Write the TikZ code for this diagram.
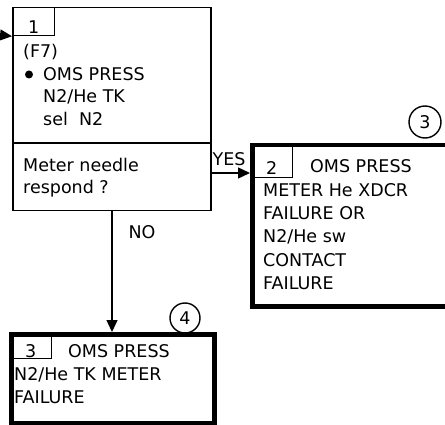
\documentclass[tikz,border=0pt]{standalone}
\usepackage{fontspec}
\setmainfont{DejaVu Sans}
\usetikzlibrary{arrows.meta, positioning, calc}

\begin{document}
\begin{tikzpicture}[
  x=1pt, y=-1pt,
  every node/.style={font=\fontsize{17.5}{22.7}\selectfont},
  thinbox/.style={draw, line width=1.5pt, inner sep=0pt},
  heavybox/.style={draw, line width=4.5pt, inner sep=0pt},
  numbox/.style={draw, line width=1.2pt, minimum width=42pt, minimum height=#1, inner sep=0pt, anchor=north west},
  line/.style={inner sep=0pt, anchor=base west},
  numtxt/.style={inner sep=0pt, anchor=base},
  dot/.style={circle, fill, minimum size=8pt, inner sep=0pt},
  tag/.style={draw, circle, line width=1.4pt, minimum size=#1, inner sep=0pt},
  arrow/.style={-{Triangle[length=12pt, width=11pt]}, line width=1.4pt},
  label/.style={inner sep=0pt, anchor=base}
]
  \useasboundingbox (0,0) rectangle (445,425);

  % Schritt 1
  \node[thinbox, minimum width=198pt, minimum height=203pt, anchor=north west] (box1) at (12,7) {};
  \node[numbox=28pt] (num1) at (box1.north west) {};
  \node[numtxt] (n1) at ($(num1.south)+(0,-3)$) {1};
  \draw[line width=1.5pt] (box1.west |- 0,143) -- (box1.east |- 0,143);
  \node[line] (f7) at (23,58) {(F7)};
  \node[dot] (bul) at (29,74.5) {};
  \node[line] (cmd1a) at (43,81) {OMS PRESS};
  \node[line] (cmd1b) at (43,103) {N2/He TK};
  \node[line] (cmd1c) at (43,126) {sel\ \ N2};
  \node[line] (ask1a) at (23,172) {Meter needle};
  \node[line] (ask1b) at (23,194) {respond ?};

  % Schritt 2
  \node[heavybox, minimum width=200pt, minimum height=161pt, anchor=north west] (box2) at (250,143) {};
  \node[numbox=34pt] (num2) at (box2.north west) {};
  \node[numtxt] (n2) at ($(num2.south)+(0,-4)$) {2};
  \node[line] (res2a) at (310,173) {OMS PRESS};
  \node[line] (res2b) at (263,197) {METER He XDCR};
  \node[line] (res2c) at (263,220) {FAILURE OR};
  \node[line] (res2d) at (263,243) {N2/He sw};
  \node[line] (res2e) at (263,267) {CONTACT};
  \node[line] (res2f) at (263,290) {FAILURE};
  \node[tag=32pt] (tag3) at (425,122) {3};

  % Schritt 3
  \node[heavybox, minimum width=203pt, minimum height=89pt, anchor=north west] (box3) at (9,332) {};
  \node[numbox=26pt] (num3) at (box3.north west) {};
  \node[numtxt] (n3) at ($(num3.south)+(0,-2)$) {3};
  \node[line] (res3a) at (68,357) {OMS PRESS};
  \node[line] (res3b) at (14,380) {N2/He TK METER};
  \node[line] (res3c) at (14,403) {FAILURE};
  \node[tag=30pt] (tag4) at (185,318) {4};

  % Verbindungen
  \coordinate (entry) at (0,35);
  \draw[arrow] (entry) -- (num1.south west);
  \draw[arrow] (box1.east |- 0,173) -- (box2.west |- 0,173);
  \draw[arrow] (box1.south -| 112,0) -- (box3.north -| 112,0);
  \node[label] (yes) at (229,166) {YES};
  \node[label] (no) at (142,239) {NO};
\end{tikzpicture}
\end{document}
